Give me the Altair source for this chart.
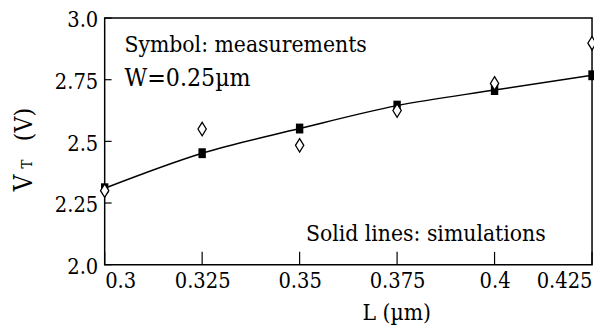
import altair as alt
import pandas as pd

# ---- data ----
L_values = [0.3, 0.325, 0.35, 0.375, 0.4, 0.425]
vt_simulated = [2.31, 2.452, 2.552, 2.645, 2.708, 2.768]
vt_measured = [2.30, 2.55, 2.484, 2.625, 2.735, 2.898]

x_tick_values = [0.3, 0.325, 0.35, 0.375, 0.4, 0.425]
x_tick_labels = ["0.3", "0.325", "0.35", "0.375", "0.4", "0.425"]
y_tick_values = [2.0, 2.25, 2.5, 2.75, 3.0]
y_tick_labels = ["2.0", "2.25", "2.5", "2.75", "3.0"]

FONT = "DejaVu Serif Condensed"
W, H = 494, 250


def label_expr(values, labels):
    expr = "datum.label"
    for v, l in zip(values, labels):
        expr = f"abs(datum.value - {v}) < 1e-9 ? '{l}' : ({expr})"
    return expr


sim_df = pd.DataFrame({"L": L_values, "VT": vt_simulated})
meas_df = pd.DataFrame({"L": L_values, "VT": vt_measured})
xt_df = pd.DataFrame({"v": x_tick_values})
yt_df = pd.DataFrame({"v": y_tick_values})
one = pd.DataFrame({"a": [0]})

x_scale = alt.Scale(domain=[0.3, 0.425], nice=False, zero=False)
y_scale = alt.Scale(domain=[2.0, 3.0], nice=False, zero=False)

x_axis = alt.Axis(values=x_tick_values, labelExpr=label_expr(x_tick_values, x_tick_labels),
                  labelFlush=True, ticks=False, domain=False, grid=False, title=None,
                  labelFont=FONT, labelFontSize=22, labelColor="black", labelPadding=6)
y_axis = alt.Axis(values=y_tick_values, labelExpr=label_expr(y_tick_values, y_tick_labels),
                  labelFlush=False, ticks=False, domain=False, grid=False, title=None,
                  labelFont=FONT, labelFontSize=22, labelColor="black", labelPadding=7,
                  labelOffset=2)

X = alt.X("L:Q", scale=x_scale, axis=x_axis)
Y = alt.Y("VT:Q", scale=y_scale, axis=y_axis)

line = alt.Chart(sim_df).mark_line(color="black", strokeWidth=1.5, interpolate="monotone").encode(x=X, y=Y)

squares = alt.Chart(sim_df).mark_point(
    shape="M-0.75,-1L0.75,-1L0.75,1L-0.75,1Z", size=100, filled=True, color="black", opacity=1
).encode(x=X, y=Y)

diamonds = alt.Chart(meas_df).mark_point(
    shape="M0,-1L0.62,0L0,1L-0.62,0Z", size=185, filled=True, fill="white",
    stroke="black", strokeWidth=1.3, opacity=1
).encode(x=X, y=Y)

xticks = alt.Chart(xt_df).mark_rule(color="black", strokeWidth=1.2).encode(
    x=alt.X("v:Q", scale=x_scale, axis=x_axis), y=alt.value(H), y2=alt.value(H - 13))

yticks = alt.Chart(yt_df).mark_rule(color="black", strokeWidth=1.2).encode(
    y=alt.Y("v:Q", scale=y_scale, axis=y_axis), x=alt.value(0), x2=alt.value(7))


def txt(s, x, y, size, angle=0, align="left", baseline="alphabetic"):
    kw = dict(text=s, font=FONT, fontSize=size, color="black", align=align, baseline=baseline)
    if angle:
        kw["angle"] = angle
    return alt.Chart(one).mark_text(**kw).encode(x=alt.value(x), y=alt.value(y))


ann1 = txt("Symbol: measurements", 20, 34, 23)
ann2 = txt("W=0.25µm", 20, 69, 25)
ann3 = txt("Solid lines: simulations", 204, 226, 23)

xtitle = txt("L (µm)", 296, 306, 23, align="center")
yt_v = txt("V", -74, 167, 26, angle=270, align="center")
yt_t = txt("T", -74, 148, 15, angle=270, align="center")
yt_u = txt("(V)", -74, 108, 25, angle=270, align="center")

chart = alt.layer(
    line, squares, diamonds, xticks, yticks, ann1, ann2, ann3, xtitle, yt_v, yt_t, yt_u
).properties(
    width=W, height=H,
    autosize=alt.AutoSizeParams(type="none"),
    padding={"left": 98, "top": 8, "right": 2, "bottom": 62},
    background="white",
).configure(font=FONT).configure_view(stroke="black", strokeWidth=1.5)

chart.save("out.html", embed_options={"renderer": "svg", "actions": False})
